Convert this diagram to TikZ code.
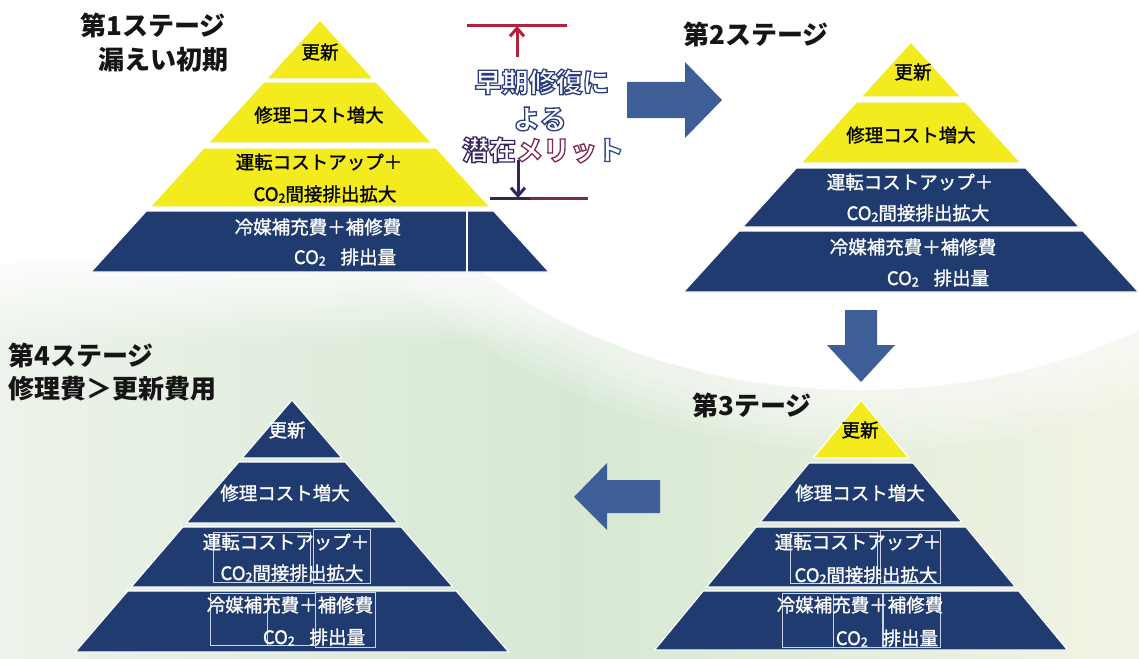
\documentclass[tikz,border=0pt]{standalone}
\usepackage{fontspec}
\setmainfont{Noto Sans CJK JP}
\newfontfamily\jpmed[FakeBold=1.3]{Noto Sans CJK JP}
\usetikzlibrary{fadings,arrows.meta}
\definecolor{pyY}{HTML}{F3EB1D}
\definecolor{pyN}{HTML}{1F3B70}
\definecolor{arrB}{HTML}{3E5E98}
\definecolor{bgL}{HTML}{EDF3EA}
\definecolor{bgM}{HTML}{D6E8D3}
\definecolor{bgR}{HTML}{F1F4E4}
\definecolor{mkRed}{HTML}{B3213D}
\definecolor{mkPur}{HTML}{36245F}
\definecolor{mkMar}{HTML}{7C2A52}
\definecolor{boxln}{HTML}{C9D2E6}
\definecolor{ttlc}{HTML}{151515}
\newcommand\cotwo{CO\raisebox{-0.08em}{\fontsize{12.5}{12.5}\selectfont 2}}
\newcommand\outl[2]{{\special{pdf:literal direct 2 Tr 1.3 w #1 RG}#2\special{pdf:literal direct 0 Tr}}}
\newcommand\pband[6]{\path[bandst,fill=#6] ({#1-#3*(#4-#2)},#4) -- ({#1+#3*(#4-#2)},#4) -- ({#1+#3*(#5-#2)},#5) -- ({#1-#3*(#5-#2)},#5) -- cycle;}
\begin{document}
\begin{tikzpicture}[x=1pt,y=-1pt,
  bandst/.style={draw=white,line width=1.2pt},
  ytxt/.style={text=black,font=\jpmed\fontsize{18.5}{20}\selectfont,inner sep=0pt},
  ntxt/.style={text=white,font=\jpmed\fontsize{18.5}{20}\selectfont,inner sep=0pt},
  ttl/.style={text=ttlc,font=\fontsize{26}{28}\selectfont\bfseries,anchor=west,inner sep=0pt},
  blk/.style={fill=arrB},
  tbox/.style={draw=boxln,line width=0.8pt},
  mk/.style={line width=3pt},
  merit/.style={font=\fontsize{27}{29}\selectfont\bfseries,inner sep=0pt,text=white}]
\useasboundingbox (0,0) rectangle (1139,658);
% background
\fill[white] (0,0) rectangle (1139,658);
\shade[left color=bgL, right color=bgR, middle color=bgM] (0,262) rectangle (1139,658);
\fill[white,path fading=south] (0,250) rectangle (1139,345);
\foreach \r in {60,50,40,30,20,10} {
  \fill[white,opacity=0.14] (860,-60) ellipse [x radius=560+\r,y radius=450+\r];
}
\fill[white] (860,-60) ellipse [x radius=560,y radius=450];

% ---------- Pyramid 1 ----------
\pband{320}{20}{0.909}{20}{79}{pyY}
\pband{320}{20}{0.909}{82}{143}{pyY}
\pband{320}{20}{0.909}{148}{207}{pyY}
\pband{320}{20}{0.909}{211}{272}{pyN}
\draw[white,line width=1.5pt] (467,211) -- (467,272);
\node[ytxt] (p1a) at (320,52) {更新};
\node[ytxt] (p1b) at (319,115) {修理コスト増大};
\node[ytxt] (p1c) at (319,162) {運転コストアップ＋};
\node[ytxt] (p1d) at (325,194) {\cotwo 間接排出拡大};
\node[ntxt] (p1e) at (318,227) {冷媒補充費＋補修費};
\node[ntxt] (p1f) at (345,257) {\cotwo\hspace{0.8em}排出量};

% ---------- Pyramid 2 ----------
\pband{911}{42}{0.91}{42}{97}{pyY}
\pband{911}{42}{0.91}{102}{163}{pyY}
\pband{911}{42}{0.91}{168}{227}{pyN}
\pband{911}{42}{0.91}{231}{292}{pyN}
\node[ytxt] (p2a) at (913,72) {更新};
\node[ytxt] (p2b) at (911,135) {修理コスト増大};
\node[ntxt] (p2c) at (910,182) {運転コストアップ＋};
\node[ntxt] (p2d) at (918,213) {\cotwo 間接排出拡大};
\node[ntxt] (p2e) at (913,247) {冷媒補充費＋補修費};
\node[ntxt] (p2f) at (938,278) {\cotwo\hspace{0.8em}排出量};

% ---------- Pyramid 3 ----------
\pband{861}{400}{0.826}{400}{458}{pyY}
\pband{861}{400}{0.826}{463}{522}{pyN}
\pband{861}{400}{0.826}{527}{587}{pyN}
\pband{861}{400}{0.826}{591}{650}{pyN}
\draw[tbox] (790,532) rectangle (877,583);
\draw[tbox] (880,530) rectangle (940,583);
\draw[tbox] (782,593) rectangle (833,647);
\draw[tbox] (833,593) rectangle (882,647);
\draw[tbox] (883,593) rectangle (940,647);
\node[ytxt] (p3a) at (860,430) {更新};
\node[ntxt] (p3b) at (860,493) {修理コスト増大};
\node[ntxt] (p3c) at (858,542) {運転コストアップ＋};
\node[ntxt] (p3d) at (866,575) {\cotwo 間接排出拡大};
\node[ntxt] (p3e) at (860,605) {冷媒補充費＋補修費};
\node[ntxt] (p3f) at (887,638) {\cotwo\hspace{0.8em}排出量};

% ---------- Pyramid 4 ----------
\pband{292}{400}{0.86}{400}{458}{pyN}
\pband{292}{400}{0.86}{462}{523}{pyN}
\pband{292}{400}{0.86}{527}{587}{pyN}
\pband{292}{400}{0.86}{591}{652}{pyN}
\draw[tbox] (213,532) rectangle (310,582);
\draw[tbox] (313,529) rectangle (370,583);
\draw[tbox] (210,593) rectangle (267,645);
\draw[tbox] (267,593) rectangle (315,645);
\draw[tbox] (315,592) rectangle (375,647);
\node[ntxt] (p4a) at (287,430) {更新};
\node[ntxt] (p4b) at (285,493) {修理コスト増大};
\node[ntxt] (p4c) at (286,542) {運転コストアップ＋};
\node[ntxt] (p4d) at (292,573) {\cotwo 間接排出拡大};
\node[ntxt] (p4e) at (290,605) {冷媒補充費＋補修費};
\node[ntxt] (p4f) at (314,637) {\cotwo\hspace{0.8em}排出量};

% ---------- Titles ----------
\node[ttl] (t1a) at (80,25) {第1ステージ};
\node[ttl] (t1b) at (98,60) {漏えい初期};
\node[ttl] (t2) at (683,34) {第2ステージ};
\node[ttl] (t3) at (692,405) {第3テージ};
\node[ttl] (t4a) at (8,355) {第4ステージ};
\node[ttl] (t4b) at (8,389) {修理費＞更新費用};

% ---------- Block arrows ----------
\fill[blk] (627,82) -- (685,82) -- (685,62) -- (722,100) -- (685,138) -- (685,118) -- (627,118) -- cycle;
\fill[blk] (845,310) -- (877,310) -- (877,345) -- (895,345) -- (861,382) -- (827,345) -- (845,345) -- cycle;
\fill[blk] (660,480) -- (607,480) -- (607,463) -- (574,497) -- (607,530) -- (607,513) -- (660,513) -- cycle;

% ---------- Merit marker ----------
\coordinate (mtl) at (467,26);
\coordinate (mtr) at (567,26);
\coordinate (mtm) at (517,26);
\coordinate (mts) at (517,57);
\coordinate (mbl) at (490,198);
\coordinate (mbm) at (530,198);
\coordinate (mbr) at (588,198);
\coordinate (mba) at (518,198);
\coordinate (mbs) at (518,160);
\draw[mk,mkRed] (mtl) -- (mtr);
\draw[mk,mkRed,-{Straight Barb[length=8pt,width=14pt]}] (mts) -- (mtm);
\draw[mk,mkPur] (mbl) -- (mbm);
\draw[mk,mkMar] (mbm) -- (mbr);
\draw[mk,mkPur,-{Straight Barb[length=8pt,width=14pt]}] (mbs) -- (mba);
\node[merit] (m1) at (542,82) {\outl{0.17 0.24 0.50}{早期修復に}};
\node[merit] (m2) at (540,119) {\outl{0.17 0.24 0.50}{よる}};
\node[merit] (m3) at (543,150) {\outl{0.22 0.14 0.38}{潜在}\outl{0.50 0.16 0.32}{メリッ}\outl{0.20 0.30 0.62}{ト}};
\end{tikzpicture}
\end{document}
